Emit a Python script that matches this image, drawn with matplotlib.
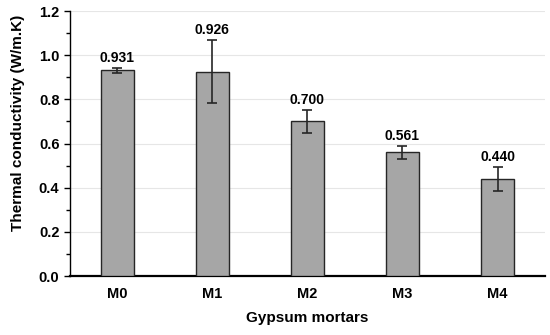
import numpy as np
import matplotlib
matplotlib.use("Agg")
import matplotlib.pyplot as plt
from matplotlib.ticker import MultipleLocator

mortars = ["M0", "M1", "M2", "M3", "M4"]
conductivity = [0.931, 0.926, 0.700, 0.561, 0.440]
errors = [0.012, 0.144, 0.052, 0.030, 0.055]

plt.rcParams['font.family'] = ['Liberation Sans', 'DejaVu Sans']
plt.rcParams['font.weight'] = 'bold'

fig = plt.figure(figsize=(5.5, 3.35), dpi=100)
ax = fig.add_axes([0.127, 0.176, 0.864, 0.791])

x = np.arange(len(mortars))
ax.bar(x, conductivity, width=0.34, color='#a6a6a6', edgecolor='#262626', linewidth=1.0, zorder=3)
ax.errorbar(x, conductivity, yerr=errors, fmt='none', ecolor='#262626', elinewidth=1.2,
            capsize=3.5, capthick=1.2, zorder=4)

# value labels just above the error bars
for xi, v, e in zip(x, conductivity, errors):
    ax.text(xi, v + e + 0.012, '%.3f' % v, ha='center', va='bottom', fontsize=10, fontweight='bold')

ax.set_xlim(-0.5, 4.5)
ax.set_ylim(0, 1.2)
ax.yaxis.set_major_locator(MultipleLocator(0.2))
ax.yaxis.set_minor_locator(MultipleLocator(0.1))
ax.yaxis.set_major_formatter(plt.FormatStrFormatter('%.1f'))
ax.set_xticks(x)
ax.set_xticklabels(mortars)
ax.tick_params(axis='x', length=0, pad=8, labelsize=10.5)
ax.tick_params(axis='y', which='major', length=4, width=1, labelsize=10.5, direction='out')
ax.tick_params(axis='y', which='minor', length=3, width=1, direction='out')

ax.grid(axis='y', color='#e6e6e6', linewidth=0.8, zorder=0)
ax.set_axisbelow(True)

for s in ['top', 'right']:
    ax.spines[s].set_visible(False)
ax.spines['left'].set_linewidth(1.0)
ax.spines['bottom'].set_linewidth(1.6)

ax.set_ylabel('Thermal conductivity (W/m.K)', fontsize=11, fontweight='bold')
ax.yaxis.set_label_coords(-0.094, 0.579)
ax.set_xlabel('Gypsum mortars', fontsize=11, fontweight='bold', labelpad=7)

fig.savefig('out.png', dpi=100)
